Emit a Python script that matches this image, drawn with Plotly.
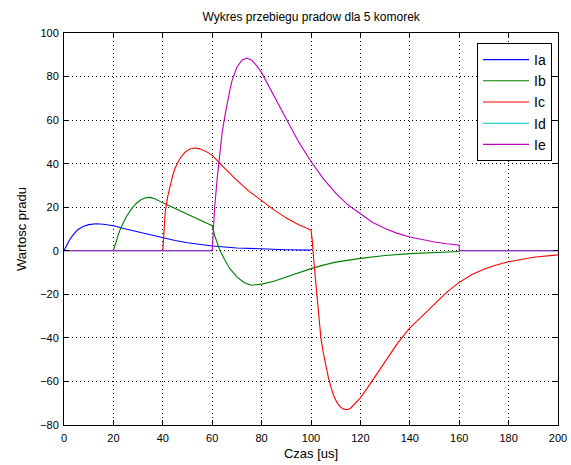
import plotly.graph_objects as go

# ---- data ----
t_a = [0, 1, 2, 3, 4, 5, 6, 8, 10, 13, 16, 20, 25, 30, 35, 40, 45, 50, 55, 60, 70, 80, 90, 100]
ia = [0, 2.5, 4.5, 6.3, 7.8, 9, 10, 11.3, 12, 12.4, 12.2, 11.5, 10, 8.7, 7.2, 5.9, 4.7, 3.7, 2.9, 2.2, 1.3, 0.8, 0.5, 0.3]

t_b = [20, 21, 22, 23, 24, 25, 27, 29, 31, 33, 35, 37, 40, 45, 50, 55, 60, 61, 62, 63, 65, 67, 70, 73, 76, 78, 80,
       85, 90, 95, 100, 105, 110, 120, 130, 140, 150, 160]
ib = [0, 4, 7.5, 10.5, 13, 15.2, 18.8, 21.5, 23.3, 24.3, 24.5, 23.8, 22, 19.3, 16.8, 14.2, 11.5, 7, 3.5, 0.5, -4, -8,
      -12, -14.7, -15.8, -15.7, -15.3, -14, -12, -10, -8.2, -6.6, -5.2, -3.5, -2.2, -1.3, -0.7, -0.3]

t_c = [40, 40.5, 41, 42, 43, 44, 45, 47, 49, 51, 53, 55, 58, 60, 65, 70, 75, 80, 85, 90, 95, 100, 100.5, 101, 102,
       103, 104, 105, 106, 107, 108, 109, 110, 111, 112, 113, 114, 115, 116, 117, 118, 120, 122.5, 125, 127.5, 130,
       132.5, 135, 137.5, 140, 145, 150, 155, 160, 165, 170, 175, 180, 190, 200]
ic = [0, 12, 18, 25, 30.5, 34.5, 38, 42.5, 45.3, 46.7, 47.2, 46.8, 45.3, 43.8, 38, 32.3, 27.3, 23, 18.8, 15, 12, 9.5,
      5, -3, -15, -29, -40, -47, -53, -58, -62.3, -66, -68.5, -70.5, -71.8, -72.6, -72.9, -72.9, -72.3, -71,
      -69.8, -67.5, -63.5, -59.3, -55, -51, -46.5, -42.5, -39, -35.4, -30, -24.5, -19, -14.5, -11, -8.5, -6.5,
      -5, -3, -1.9]

t_d = [0, 60, None, 160, 200]
id_ = [0, 0, None, 0, 0]

t_e = [0, 60, 60.5, 61, 62, 63, 64, 65, 66, 67, 68, 69, 70, 72, 74, 76, 78, 80, 85, 90, 95, 100, 105, 110, 115, 120,
       125, 130, 135, 140, 145, 150, 155, 160, 160, 200]
ie = [0, 0, 10, 20, 33, 44, 54, 61, 67.5, 73, 78, 81.5, 84.3, 87.5, 88.5, 87.5, 85, 81.8, 71.5, 60.5, 50, 41, 33,
      26.5, 21, 16.8, 13, 10.2, 8, 6.3, 5, 4, 3.2, 2.6, 0, 0]

names = ["Ia", "Ib", "Ic", "Id", "Ie"]
colors = ["#0000ff", "#008000", "#ff0000", "#00bfbf", "#bf00bf"]
series = [(t_a, ia), (t_b, ib), (t_c, ic), (t_d, id_), (t_e, ie)]

x_ticks = list(range(0, 201, 20))
y_ticks = list(range(-80, 101, 20))

fig = go.Figure()
for (tx, vy), n, c in zip(series, names, colors):
    fig.add_trace(go.Scatter(x=tx, y=vy, mode="lines", name=n,
                             line=dict(color=c, width=1.1), connectgaps=False))

font = "Liberation Sans, Arial, sans-serif"
axis_common = dict(
    showline=True, linecolor="black", linewidth=1, mirror="allticks",
    ticks="inside", ticklen=5, tickcolor="black",
    showgrid=True, gridcolor="black", griddash="1px,3px", gridwidth=1,
    zeroline=False, automargin=False,
    tickfont=dict(family=font, size=11, color="black"),
)

fig.update_layout(
    width=571, height=465,
    paper_bgcolor="white", plot_bgcolor="white",
    margin=dict(l=64, r=13, t=33, b=40),
    title=dict(text="Wykres przebiegu pradow dla 5 komorek", x=0.545, xanchor="center",
               y=0.964, yanchor="middle", font=dict(family=font, size=12, color="black")),
    xaxis=dict(range=[0, 200], tickvals=x_ticks, ticklabelstandoff=3,
               title=dict(text="Czas [us]", standoff=5, font=dict(family=font, size=13, color="black")),
               **axis_common),
    yaxis=dict(range=[-80, 100], tickvals=y_ticks, ticklabelstandoff=2,
               title=dict(text="Wartosc pradu", standoff=10, font=dict(family=font, size=13, color="black")),
               **axis_common),
    legend=dict(x=0.988, xanchor="right", y=0.9745, yanchor="top",
                bgcolor="white", bordercolor="black", borderwidth=1,
                font=dict(family=font, size=14, color="black"), itemwidth=46, tracegroupgap=0),
    showlegend=True,
)

fig.write_html(
    "out.html",
    config={"displayModeBar": False},
    post_script="document.body.style.margin='0';document.body.style.overflow='hidden';",
)
